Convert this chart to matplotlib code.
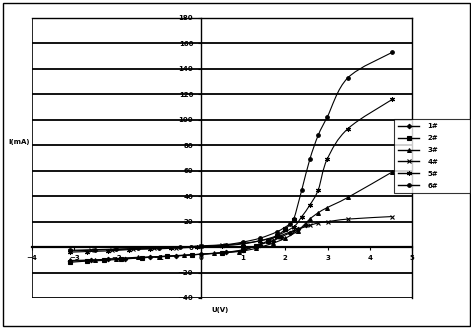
import numpy as np
import matplotlib.pyplot as plt
from matplotlib.path import Path
from matplotlib.patches import PathPatch, Rectangle
from matplotlib.lines import Line2D

# I-V data (U in V, I in mA)
names = ["1#", "2#", "3#", "4#", "5#", "6#"]

u1 = [-3.1, -2.6, -2.2, -1.8, -1.2, -0.6, 0.0, 0.6, 1.0, 1.4, 1.7, 1.9, 2.1, 2.3, 2.5]
i1 = [-11, -10.5, -9.5, -9, -8, -7, -5.5, -4, -2, 2, 5, 8, 11, 14, 17]

u2 = [-3.1, -2.7, -2.3, -1.9, -1.4, -0.8, -0.2, 0.5, 1.0, 1.3, 1.6, 1.8, 2.0, 2.2]
i2 = [-12, -11, -10.5, -9.5, -8.5, -7, -6, -4.5, -2.5, 1, 5, 9, 14, 21]

u3 = [-3.1, -2.5, -2.0, -1.5, -1.0, -0.4, 0.3, 0.9, 1.3, 1.7, 2.0, 2.3, 2.58, 2.78, 2.99, 3.48, 4.53]
i3 = [-10.5, -10, -9, -8, -7.5, -6.5, -5, -3.5, -1, 3, 7, 13, 22, 27, 31, 39, 59]

u4 = [-3.1, -2.6, -2.1, -1.6, -1.1, -0.6, 0.0, 0.5, 1.0, 1.4, 1.8, 2.2, 2.58, 2.78, 3.0, 3.48, 4.53]
i4 = [-3, -2.5, -2, -1.5, -1, -0.5, 0.5, 1.5, 3, 5, 8, 13, 17, 19, 20, 22, 24]

u5 = [-3.1, -2.7, -2.2, -1.7, -1.2, -0.7, -0.1, 0.5, 1.0, 1.4, 1.8, 2.2, 2.39, 2.58, 2.78, 2.99, 3.48, 4.53]
i5 = [-4, -3.5, -3, -2, -1.5, -1, 0, 1, 2.5, 5, 9, 16, 24, 33, 45, 69, 93, 116]

u6 = [-3.1, -2.5, -2.0, -1.5, -1.0, -0.5, 0.0, 0.6, 1.0, 1.4, 1.8, 2.1, 2.2, 2.39, 2.58, 2.78, 2.99, 3.48, 4.53]
i6 = [-2.5, -2, -1.5, -1, -0.5, 0, 1, 2, 4, 7, 12, 18, 22, 45, 69, 88, 102, 133, 153]

series = [(u1, i1), (u2, i2), (u3, i3), (u4, i4), (u5, i5), (u6, i6)]
markers = ["D", "s", "^", "x", (6, 2, 0), "o"]
msizes = [2.3, 2.3, 2.8, 2.8, 3.6, 2.6]

x_ticks = list(range(-4, 6))
y_ticks = list(range(-40, 181, 20))


def smooth_path(x, y):
    # Excel-like smoothed line: Catmull-Rom segments as cubic Beziers
    p = np.column_stack([x, y]).astype(float)
    n = len(p)
    verts = [p[0]]
    codes = [Path.MOVETO]
    for k in range(n - 1):
        p0 = p[k - 1] if k > 0 else p[k]
        p1 = p[k]
        p2 = p[k + 1]
        p3 = p[k + 2] if k + 2 < n else p[k + 1]
        verts += [p1 + (p2 - p0) / 6, p2 - (p3 - p1) / 6, p2]
        codes += [Path.CURVE4] * 3
    return Path(verts, codes)


fig = plt.figure(figsize=(4.71, 3.28), dpi=100)
ax = fig.add_axes([32 / 471, 30 / 328, 380 / 471, 280 / 328])

for (x, y), m, ms in zip(series, markers, msizes):
    ax.add_patch(PathPatch(smooth_path(x, y), fill=False, ec="black", lw=0.8))
    ax.plot(x, y, ls="none", marker=m, ms=ms, color="black", mec="black", mew=0.8)

ax.set_xlim(-4, 5)
ax.set_ylim(-40, 180)
ax.set_xticks(x_ticks)
ax.set_yticks(y_ticks)
ax.yaxis.grid(True, color="black", lw=1.3)
ax.set_axisbelow(True)

# axes cross at zero, plot area keeps a frame
ax.spines["left"].set_position(("data", 0))
ax.spines["bottom"].set_position(("data", 0))
for s in ax.spines.values():
    s.set_linewidth(1)
ax.spines["bottom"].set_linewidth(1.6)
ax.axvline(-4, color="black", lw=1.2)

ax.tick_params(axis="both", direction="out", length=2.5, width=0.8,
               labelsize=5, pad=3)
for lab in ax.get_xticklabels() + ax.get_yticklabels():
    lab.set_fontweight("bold")

fig.text(19 / 471, 1 - 142 / 328, "I(mA)", ha="center", va="center",
         fontsize=5, fontweight="bold")
fig.text(220 / 471, 1 - 310 / 328, "U(V)", ha="center", va="center",
         fontsize=5, fontweight="bold")

handles = [Line2D([], [], color="black", lw=1, marker=m, ms=ms, mew=0.8)
           for m, ms in zip(markers, msizes)]
leg = fig.legend(handles, names, loc="upper left", mode="expand",
                 bbox_to_anchor=(394 / 471, 1 - 193 / 328, 76 / 471, 74 / 328),
                 frameon=True, fancybox=False, fontsize=5,
                 handlelength=3.0, handletextpad=1.2, labelspacing=0.85,
                 borderaxespad=0, borderpad=0.6)
leg.get_frame().set_edgecolor("black")
leg.get_frame().set_linewidth(0.8)
for t in leg.get_texts():
    t.set_fontweight("bold")

# chart area border
fig.add_artist(Rectangle((3 / 471, 2 / 328), 467 / 471, 323 / 328,
                         transform=fig.transFigure, fill=False,
                         ec="black", lw=1))

fig.savefig("out.png", dpi=100)
